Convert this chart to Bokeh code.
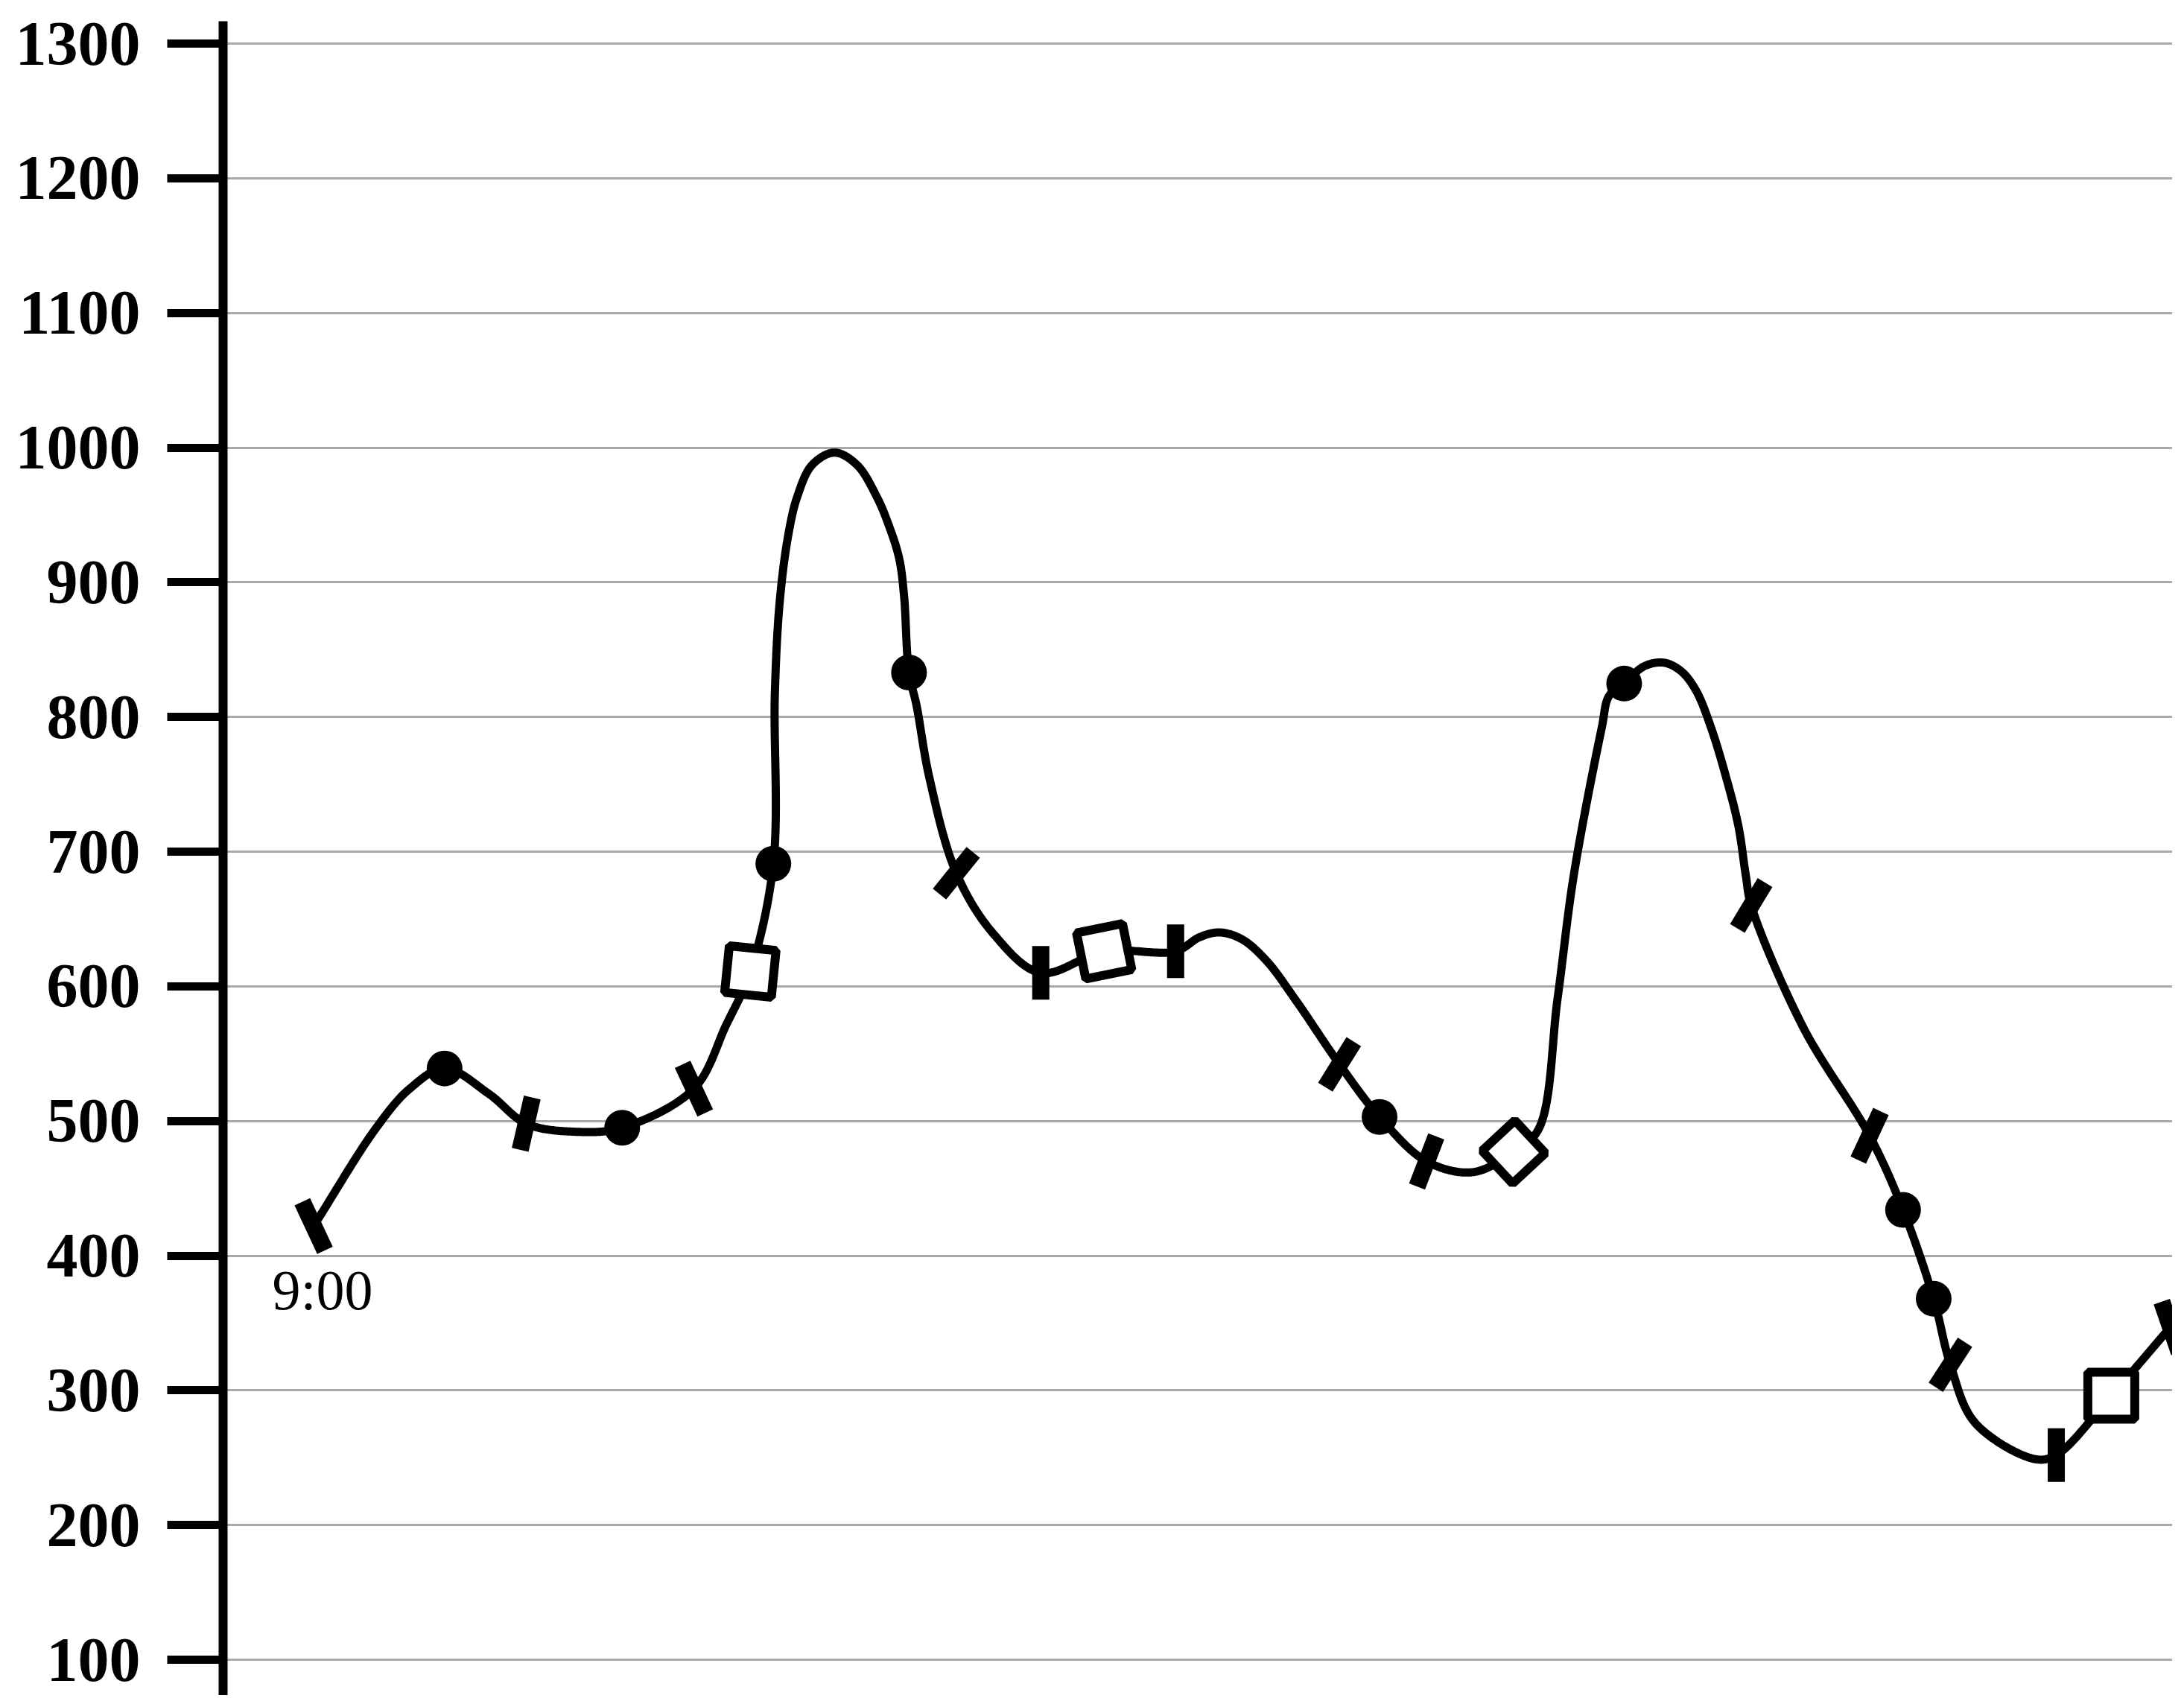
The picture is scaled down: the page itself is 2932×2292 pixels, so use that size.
import numpy as np
from bokeh.plotting import figure
from bokeh.models import Range1d, FixedTicker
from bokeh.core.properties import value
from bokeh.embed import file_html
from bokeh.resources import INLINE

# ---- data (x = minutes after 9:00, y = value) ----
curve_t = [0, 22.5, 34.5, 47, 63, 76.3, 94, 110.75, 136.5, 148, 156.75, 165,
           165.55, 167.35, 170.45, 173.6, 178.95, 186.95, 195, 202.1, 206.55,
           210.15, 211.9, 213.7, 216.4, 221, 230.7,
           244, 261, 283.75, 309.4, 318, 325.15, 333.15, 342, 352.75, 368.25,
           382.6, 399.5, 416, 430.75, 439.7, 446.5, 452.35, 462.35, 465, 470.4,
           477.55, 484.65, 490.9, 496.25, 501.6, 506.95, 511.4, 514.05, 516,
           534.8, 558.5, 570.5, 581.5, 587.5, 596.3, 617.75, 625.5, 645.25, 666.5]
curve_v = [422, 495, 524, 539, 520, 498, 492, 495, 524, 571, 611, 691,
           817.5, 886.9, 936.1, 963.6, 987.2, 996.3, 987.2, 963.6, 941.7,
           917.9, 890.6, 833, 808.6, 755, 684,
           639, 610, 626, 626, 636.5, 640, 635, 619, 589, 542,
           503, 470, 462, 477, 494, 591, 683, 792, 815.7, 824.8,
           837.6, 840.3, 833.9, 819.4, 792, 755.5, 719, 682.5, 660,
           569, 489, 434, 368, 319, 276, 249, 252, 296, 347]

bar_t = [0, 76.3, 136.5, 230.7, 261, 309.4, 368.25, 399.5, 516, 558.5, 587.5, 625.5, 666.5]
bar_v = [422, 498, 524, 684, 610, 626, 542, 470, 660, 489, 319, 252, 347]

dot_t = [47, 110.75, 165, 213.7, 382.6, 470.4, 570.5, 581.5]
dot_v = [539, 495, 691, 833, 503, 824.8, 434, 368]

square_t = [156.75, 283.75, 645.25]
square_v = [611, 626, 296]

diamond_t = [430.75]
diamond_v = [477]

y_ticks = [100, 200, 300, 400, 500, 600, 700, 800, 900, 1000, 1100, 1200, 1300]
start_label = "9:00"

# ---- styles ----
bar_tilt_deg = [-65, 77, -65, 51, 90, 90, 58, 69, 59, 65, 57, 90, -71]
square_angles = [-0.1, 0.2, 0.0]
SERIF = "Liberation Serif"

W, H = 2916, 2276
LEFT, TOP = 299, 28
Y1300, Y100 = 58.0, 2228.0
ppu = (Y100 - Y1300) / 1200.0
y_hi = 1300 + (Y1300 - TOP) / ppu
y_lo = 100 - (H - Y100) / ppu
x_lo, x_hi = -32.5, 667.2

p = figure(width=W, height=H, output_backend="svg", toolbar_location=None,
           x_range=Range1d(x_lo, x_hi), y_range=Range1d(y_lo, y_hi),
           x_axis_type=None, min_border_left=LEFT, min_border_right=0,
           min_border_top=TOP, min_border_bottom=0)
p.outline_line_color = None
p.background_fill_color = "white"
p.border_fill_color = "white"

ax = p.yaxis[0]
ax.ticker = FixedTicker(ticks=y_ticks)
ax.axis_line_width = 12
ax.axis_line_color = "black"
ax.major_tick_line_width = 11
ax.major_tick_line_color = "black"
ax.major_tick_out = 75
ax.major_tick_in = 0
ax.minor_tick_line_color = None
ax.major_label_standoff = 36
ax.major_label_text_font = SERIF
ax.major_label_text_font_style = "bold"
ax.major_label_text_font_size = "84px"
ax.major_label_text_color = "black"

p.ygrid.ticker = FixedTicker(ticks=y_ticks)
p.ygrid.grid_line_color = "#a9a9a9"
p.ygrid.grid_line_width = 3

kx = (W - LEFT) / (x_hi - x_lo)
ky = (H - TOP) / (y_hi - y_lo)


def catmull_rom(xs, ys, n=40, alpha=0.5):
    pts = np.column_stack([np.asarray(xs, float) * kx, np.asarray(ys, float) * ky])
    ext = np.vstack([2 * pts[0] - pts[1], pts, 2 * pts[-1] - pts[-2]])
    out = []
    for i in range(1, len(ext) - 2):
        p0, p1, p2, p3 = ext[i - 1], ext[i], ext[i + 1], ext[i + 2]
        t0 = 0.0
        t1 = t0 + max(np.linalg.norm(p1 - p0), 1e-6) ** alpha
        t2 = t1 + max(np.linalg.norm(p2 - p1), 1e-6) ** alpha
        t3 = t2 + max(np.linalg.norm(p3 - p2), 1e-6) ** alpha
        for t in np.linspace(t1, t2, n, endpoint=False):
            a1 = (t1 - t) / (t1 - t0) * p0 + (t - t0) / (t1 - t0) * p1
            a2 = (t2 - t) / (t2 - t1) * p1 + (t - t1) / (t2 - t1) * p2
            a3 = (t3 - t) / (t3 - t2) * p2 + (t - t2) / (t3 - t2) * p3
            b1 = (t2 - t) / (t2 - t0) * a1 + (t - t0) / (t2 - t0) * a2
            b2 = (t3 - t) / (t3 - t1) * a2 + (t - t1) / (t3 - t1) * a3
            out.append((t2 - t) / (t2 - t1) * b1 + (t - t1) / (t2 - t1) * b2)
    out.append(pts[-1])
    out = np.array(out)
    return out[:, 0] / kx, out[:, 1] / ky


sx, sy = catmull_rom(curve_t, curve_v)
p.line(sx, sy, line_color="black", line_width=11, line_join="round", line_cap="round")

bar_angles = [np.radians(a) - np.pi / 2 for a in bar_tilt_deg]
p.rect(x=bar_t, y=bar_v, width=23, height=72, width_units="screen",
       height_units="screen", angle=bar_angles, fill_color="black", line_color=None)

p.scatter(x=dot_t, y=dot_v, marker="circle", size=48, fill_color="black", line_color=None)

p.scatter(x=square_t, y=square_v, marker="square", size=63, angle=square_angles,
          fill_color="white", line_color="black", line_width=12)
p.scatter(x=diamond_t, y=diamond_v, marker="square", size=60, angle=0.75,
          fill_color="white", line_color="black", line_width=12)

p.text(x=[curve_t[0]], y=[curve_v[0]], text=[start_label], x_offset=12, y_offset=86,
       text_align="center", text_baseline="alphabetic", text_font=value(SERIF),
       text_font_size="76px", text_color="black")

open("out.html", "w").write(file_html(p, INLINE))
